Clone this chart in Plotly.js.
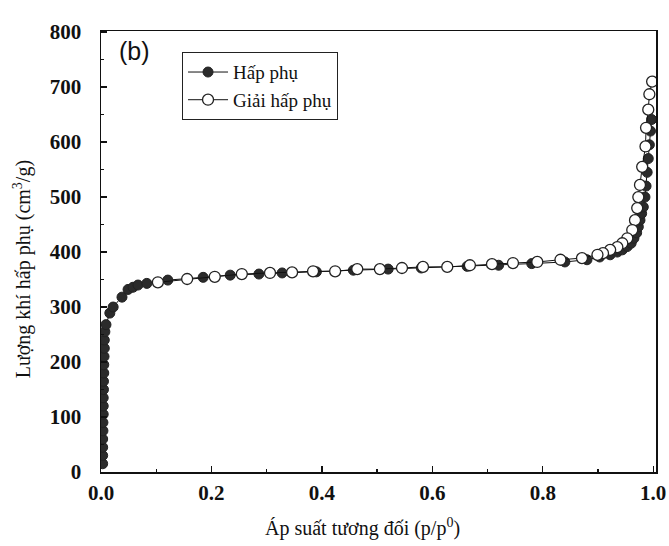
<!DOCTYPE html>
<html>
<head>
<meta charset="utf-8">
<script src="https://cdn.plot.ly/plotly-3.0.1.min.js"></script>
<style>html,body{margin:0;padding:0;background:#fff;}#chart{width:669px;height:546px;}</style>
</head>
<body>
<div id="chart"></div>
<script>
// Adsorption branch (Hấp phụ)
const adsP = [0.003,0.003,0.003,0.003,0.0035,0.0035,0.004,0.004,0.004,0.0045,0.0045,0.005,0.005,0.0055,0.006,0.006,0.007,0.009,0.016,0.022,0.038,0.049,0.058,0.067,0.083,0.121,0.185,0.234,0.286,0.328,0.39,0.457,0.52,0.58,0.663,0.72,0.78,0.84,0.88,0.903,0.922,0.935,0.944,0.953,0.96,0.965,0.970,0.973,0.976,0.979,0.982,0.985,0.987,0.989,0.991,0.993,0.995,0.997];
const adsV = [15,30,45,60,75,90,105,120,135,150,165,180,195,210,225,240,255,268,289,300,318,332,336,340,343,349,354,358,360,362,364,367,369,371,374,376,379,382,386,391,395,400,404,410,416,425,435,446,458,470,482,500,520,545,570,595,620,641];
// Desorption branch (Giải hấp phụ)
const desP = [0.998,0.993,0.991,0.987,0.986,0.980,0.976,0.973,0.971,0.967,0.962,0.953,0.944,0.935,0.922,0.909,0.899,0.871,0.832,0.79,0.746,0.708,0.668,0.627,0.583,0.545,0.505,0.464,0.424,0.384,0.346,0.306,0.255,0.206,0.156,0.103];
const desV = [710,687,659,626,592,555,522,500,480,458,440,425,416,409,404,398,395,389,386,382,380,378,376,373,373,371,369,369,365,365,363,362,360,355,351,345];
const seriesNames = ['Hấp phụ','Giải hấp phụ'];
const xTitle = 'Áp suất tương đối (p/p<sup>0</sup>)';
const yTitle = 'Lượng khí hấp phụ (cm<sup>3</sup>/g)';
const panelLabel = '(b)';

const serif = 'Liberation Serif, Times New Roman, serif';
const traces = [
  {x: adsP, y: adsV, name: seriesNames[0], mode: 'lines+markers', type: 'scatter',
   line: {color: '#111', width: 1},
   marker: {symbol: 'circle', size: 10, color: '#2b2b2b', line: {color: '#222', width: 1}}},
  {x: desP, y: desV, name: seriesNames[1], mode: 'lines+markers', type: 'scatter',
   line: {color: '#111', width: 1},
   marker: {symbol: 'circle', size: 11, color: '#fff', line: {color: '#222', width: 1.3}}}
];
const axisCommon = {
  showline: true, linecolor: '#111', linewidth: 1.5, mirror: true,
  ticks: 'inside', ticklen: 6, tickwidth: 1.3, tickcolor: '#111',
  showgrid: false, zeroline: false,
  tickfont: {family: serif, size: 21, weight: 'bold', color: '#111'}
};
const layout = {
  width: 669, height: 546,
  margin: {l: 101, r: 13, t: 31, b: 74},
  paper_bgcolor: '#fff', plot_bgcolor: '#fff',
  showlegend: true,
  legend: {x: 0.146, y: 0.952, xanchor: 'left', yanchor: 'top',
           bordercolor: '#222', borderwidth: 1, bgcolor: '#fff',
           font: {family: serif, size: 19, color: '#111'},
           tracegroupgap: 0, itemwidth: 40},
  xaxis: Object.assign({}, axisCommon, {range: [0, 1.005], tickvals: [0,0.2,0.4,0.6,0.8,1.0],
          ticktext: ['0.0','0.2','0.4','0.6','0.8','1.0'], ticklabelstandoff: 1,
          minor: {dtick: 0.1, ticks: 'inside', ticklen: 3, tickcolor: '#111'}}),
  yaxis: Object.assign({}, axisCommon, {range: [0, 802], dtick: 100, ticklabelstandoff: 14,
          minor: {dtick: 50, ticks: 'inside', ticklen: 3, tickcolor: '#111'}}),
  annotations: [
    {text: panelLabel, xref: 'paper', yref: 'paper', x: 0.029, y: 0.992, xanchor: 'left', yanchor: 'top',
     showarrow: false, font: {family: 'Liberation Sans, Arial, sans-serif', size: 25, color: '#111'}},
    {text: xTitle, xref: 'paper', yref: 'paper', x: 0.472, y: -0.125, xanchor: 'center', yanchor: 'middle',
     showarrow: false, font: {family: serif, size: 20, color: '#111'}},
    {text: yTitle, xref: 'paper', yref: 'paper', x: -0.142, y: 0.46, xanchor: 'center', yanchor: 'middle',
     textangle: -90, showarrow: false, font: {family: serif, size: 20, color: '#111'}}
  ]
};
Plotly.newPlot('chart', traces, layout, {displayModeBar: false, staticPlot: true});
</script>
</body>
</html>
